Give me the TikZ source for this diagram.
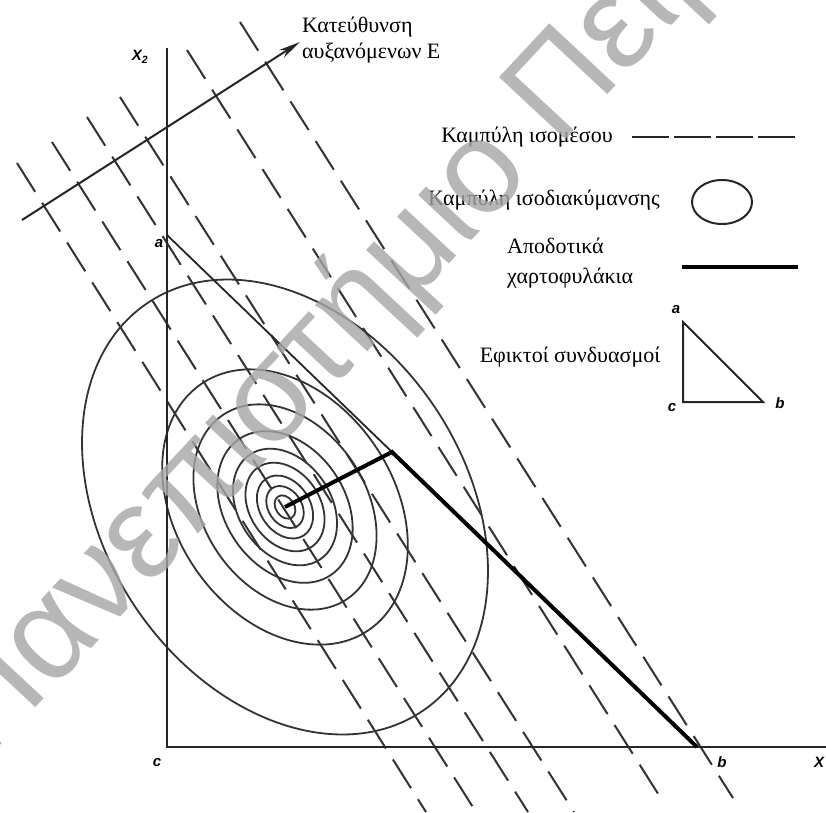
\documentclass[tikz,border=0pt]{standalone}
\usepackage{fontspec}
\setmainfont{Liberation Serif}
\newfontfamily\lblfont{Liberation Sans}
\usetikzlibrary{arrows.meta}
\begin{document}
\begin{tikzpicture}[x=1pt,y=-1pt,
  axisline/.style={line width=2pt, draw=black!85},
  isomean/.style={line width=2pt, draw=black!80, dash pattern=on 34pt off 13pt},
  isovar/.style={line width=1.8pt, draw=black!80},
  thinline/.style={line width=1.8pt, draw=black!85},
  efficient/.style={line width=4pt, draw=black},
  legtext/.style={font=\fontsize{22}{26}\selectfont, inner sep=0pt},
  ptlabel/.style={font=\lblfont\bfseries\itshape\fontsize{15}{16}\selectfont, inner sep=0pt},
  wm/.style={font=\lblfont\fontsize{132}{132}\selectfont, text=black!35, text opacity=0.8, inner sep=0pt}
]
\useasboundingbox (0,0) rectangle (826,812);
\fill[white] (0,0) rectangle (826,812);

% key points
\coordinate (O) at (167,747);
\coordinate (ytop) at (167,48);
\coordinate (xend) at (826,747);
\coordinate (a) at (167,235);
\coordinate (b) at (697,747);
\coordinate (kink) at (392,452);
\coordinate (mvp) at (285,507);

% iso-mean dashed lines
\foreach \tx/\ty/\bx/\by in {17/163/426/812, 52/142/476/812, 87/117/528/812, 120/97/574/812, 187/50/662/800, 240/22/733/798}{
  \draw[isomean] (\tx,\ty) -- (\bx,\by);
}

% iso-variance ellipses
\foreach \c in {10,18,27,38,50,65,88,118,195}{
  \draw[isovar, shift={(285,507)}, rotate=-56] (0,0) ellipse [x radius={1.2615*\c}, y radius={0.9231*\c}];
}

% axes
\draw[axisline] (ytop) -- (O) -- (xend);

% feasible line a-b and efficient set
\draw[thinline] (a) -- (kink);
\draw[efficient] (mvp) -- (kink) -- (b);

% direction arrow
\coordinate (arrTail) at (22,220);
\coordinate (arrTip) at (300,42);
\draw[line width=2pt, draw=black!85, -{Stealth[length=22pt,width=9pt]}] (arrTail) -- (arrTip);

% point labels
\node[ptlabel] (lblX2) at (140,57) {X\textsubscript{2}};
\node[ptlabel] (lbla) at (159,244) {a};
\node[ptlabel] (lblc) at (157,763) {c};
\node[ptlabel] (lblb) at (722,762) {b};
\node[ptlabel, anchor=west] (lblX) at (814,762) {X};

% direction text
\node[legtext, anchor=west, align=left] (dirtext) at (302,40) {Κατεύθυνση\\αυξανόμενων Ε};

% legend
\node[legtext] (legmean) at (527,137) {Καμπύλη ισομέσου};
\draw[line width=2.4pt, draw=black!85, dash pattern=on 37pt off 5pt] (632,137) -- (795,137);
\node[legtext] (legvar) at (544,200) {Καμπύλη ισοδιακύμανσης};
\draw[line width=2pt, draw=black!85] (722,202) ellipse [x radius=30, y radius=22];
\node[legtext, anchor=west, align=left, font=\fontsize{22}{30}\selectfont] (legeff) at (507,263) {Αποδοτικά\\χαρτοφυλάκια};
\draw[line width=4.5pt] (682,267) -- (798,267);
\node[legtext] (legfeas) at (570,357) {Εφικτοί συνδυασμοί};
\coordinate (ta) at (683,322);
\coordinate (tc) at (683,402);
\coordinate (tb) at (763,402);
\draw[line width=2pt, draw=black!85] (ta) -- (tc) -- (tb) -- cycle;
\node[ptlabel] (tla) at (676,310) {a};
\node[ptlabel] (tlc) at (672,408) {c};
\node[ptlabel] (tlb) at (780,403) {b};

% watermark
\node[wm, rotate=47, anchor=base west] (wmark) at (-14,761) {Πανεπιστήμιο Πειραιά};
\end{tikzpicture}
\end{document}
